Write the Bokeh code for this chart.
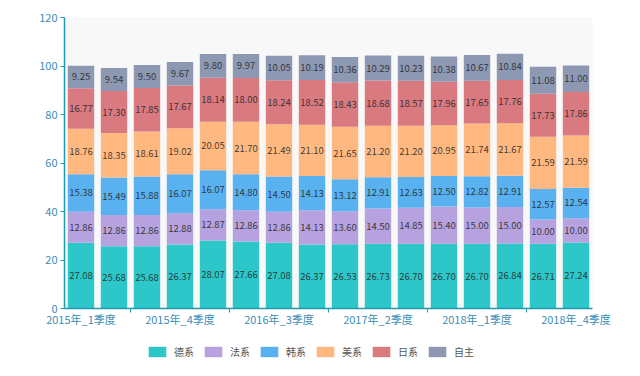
from bokeh.plotting import figure
from bokeh.models import ColumnDataSource, Range1d, FixedTicker, Legend, LegendItem, BoxAnnotation
from bokeh.core.properties import value
from bokeh.embed import file_html
from bokeh.resources import INLINE

quarters = ["2015年_1季度", "2015年_2季度", "2015年_3季度", "2015年_4季度",
            "2016年_1季度", "2016年_2季度", "2016年_3季度", "2016年_4季度",
            "2017年_1季度", "2017年_2季度", "2017年_3季度", "2017年_4季度",
            "2018年_1季度", "2018年_2季度", "2018年_3季度", "2018年_4季度"]

series_names = ["德系", "法系", "韩系", "美系", "日系", "自主"]
german = [27.08, 25.68, 25.68, 26.37, 28.07, 27.66, 27.08, 26.37, 26.53, 26.73, 26.70, 26.70, 26.70, 26.84, 26.71, 27.24]
french = [12.86, 12.86, 12.86, 12.88, 12.87, 12.86, 12.86, 14.13, 13.60, 14.50, 14.85, 15.40, 15.00, 15.00, 10.00, 10.00]
korean = [15.38, 15.49, 15.88, 16.07, 16.07, 14.80, 14.50, 14.13, 13.12, 12.91, 12.63, 12.50, 12.82, 12.91, 12.57, 12.54]
american = [18.76, 18.35, 18.61, 19.02, 20.05, 21.70, 21.49, 21.10, 21.65, 21.20, 21.20, 20.95, 21.74, 21.67, 21.59, 21.59]
japanese = [16.77, 17.30, 17.85, 17.67, 18.14, 18.00, 18.24, 18.52, 18.43, 18.68, 18.57, 17.96, 17.65, 17.76, 17.73, 17.86]
domestic = [9.25, 9.54, 9.50, 9.67, 9.80, 9.97, 10.05, 10.19, 10.36, 10.29, 10.23, 10.38, 10.67, 10.84, 11.08, 11.00]

colors = ["#2ec7c9", "#b6a2de", "#5ab1ef", "#ffb980", "#d87a80", "#8d98b3"]
all_series = [german, french, korean, american, japanese, domestic]

FONT = "Noto Sans CJK SC"
AXIS_COLOR = "#1f9bb0"
LABEL_COLOR = "#3a8db5"

W, H = 640, 376
N = len(quarters)
Y_MAX = 120
# plot region in page pixels: x 64..592, y 17 (value 120) .. 308 (value 0)
PX_X = (592 - 64) / N
PX_Y = (308 - 17) / Y_MAX
x_start = -64 / PX_X
x_end = N + (W - 592) / PX_X
y_top = Y_MAX + 17 / PX_Y
y_bottom = -(H - 308) / PX_Y

xs = [i + 0.5 for i in range(N)]
data = {"x": xs}
for name, vals in zip(series_names, all_series):
    data[name] = vals
source = ColumnDataSource(data)

p = figure(width=W, height=H, output_backend="svg", toolbar_location=None,
           x_range=Range1d(x_start, x_end), y_range=Range1d(y_bottom, y_top),
           min_border_left=0, min_border_right=0, min_border_top=0, min_border_bottom=0)
p.background_fill_color = "white"
p.border_fill_color = "white"
p.outline_line_color = None
p.xgrid.visible = False
p.ygrid.visible = False

p.add_layout(BoxAnnotation(left=0, right=N, bottom=0, top=Y_MAX, fill_color="#f8f8f8",
                           fill_alpha=1.0, line_color=None, level="underlay"))

renderers = p.vbar_stack(series_names, x="x", width=0.8, source=source,
                         color=colors, line_color=None)

# labels inside segments
tx, ty, tt = [], [], []
bottoms = [0.0] * N
for vals in all_series:
    for i, v in enumerate(vals):
        tx.append(xs[i])
        ty.append(bottoms[i] + v / 2)
        tt.append(f"{v:.2f}")
        bottoms[i] += v
p.text(x=tx, y=ty, text=tt, text_align="center", text_baseline="middle",
       text_font=value(FONT), text_font_size="9.5px", text_color="#222222", text_alpha=0.85)

# axes
label_idx = [0, 3, 6, 9, 12, 15]
p.xaxis.fixed_location = 0
p.xaxis.bounds = (0, N)
p.xaxis.ticker = FixedTicker(ticks=[xs[i] for i in label_idx], minor_ticks=[2, 5, 8, 11, 14])
p.xaxis.major_label_overrides = {xs[i]: quarters[i] for i in label_idx}
p.xaxis.major_tick_line_color = None
p.xaxis.major_tick_out = 0
p.xaxis.minor_tick_line_color = AXIS_COLOR
p.xaxis.minor_tick_out = 4
p.xaxis.minor_tick_in = 0
p.xaxis.axis_line_color = AXIS_COLOR
p.xaxis.axis_line_width = 1.5
p.xaxis.major_label_text_color = LABEL_COLOR
p.xaxis.major_label_text_font = FONT
p.xaxis.major_label_text_font_size = "11px"
p.xaxis.major_label_standoff = -2

p.yaxis.fixed_location = 0
p.yaxis.bounds = (0, Y_MAX)
p.yaxis.ticker = FixedTicker(ticks=[0, 20, 40, 60, 80, 100, 120])
p.yaxis.axis_line_color = AXIS_COLOR
p.yaxis.axis_line_width = 1.5
p.yaxis.major_tick_line_color = AXIS_COLOR
p.yaxis.major_tick_out = 4
p.yaxis.major_tick_in = 0
p.yaxis.minor_tick_line_color = None
p.yaxis.major_label_text_color = LABEL_COLOR
p.yaxis.major_label_text_font = FONT
p.yaxis.major_label_text_font_size = "11px"
p.yaxis.major_label_standoff = 3

legend = Legend(items=[LegendItem(label=n, renderers=[r]) for n, r in zip(series_names, renderers)],
                orientation="horizontal", location=(146, 17),
                glyph_width=22, glyph_height=13, label_standoff=6, spacing=8,
                label_height=13,
                label_text_font=FONT, label_text_font_size="10px", label_text_color="#555555",
                border_line_color=None, background_fill_alpha=0, padding=0, margin=0)
p.add_layout(legend, "center")

open("out.html", "w").write(file_html(p, INLINE))
